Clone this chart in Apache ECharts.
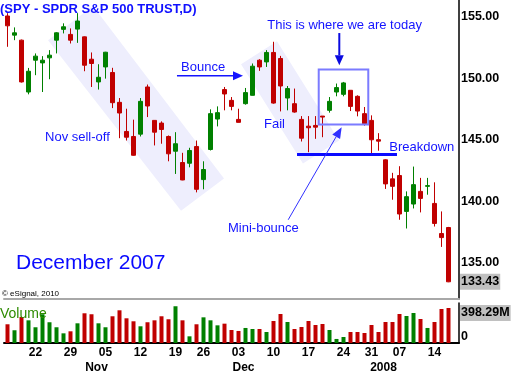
<!DOCTYPE html>
<html><head><meta charset="utf-8">
<script src="https://cdn.jsdelivr.net/npm/echarts@6.0.0/dist/echarts.min.js"></script>
<style>html,body{margin:0;padding:0;background:#fff}#c{width:523px;height:375px}</style>
</head><body><div id="c"></div>
<script>
// ---- data ----
const dates = ['2007-10-16','2007-10-17','2007-10-18','2007-10-19','2007-10-22','2007-10-23','2007-10-24','2007-10-25','2007-10-26','2007-10-29','2007-10-30','2007-10-31',
'2007-11-01','2007-11-02','2007-11-05','2007-11-06','2007-11-07','2007-11-08','2007-11-09','2007-11-12','2007-11-13','2007-11-14','2007-11-15','2007-11-16','2007-11-19','2007-11-20','2007-11-21','2007-11-23','2007-11-26','2007-11-27','2007-11-28','2007-11-29','2007-11-30',
'2007-12-03','2007-12-04','2007-12-05','2007-12-06','2007-12-07','2007-12-10','2007-12-11','2007-12-12','2007-12-13','2007-12-14','2007-12-17','2007-12-18','2007-12-19','2007-12-20','2007-12-21','2007-12-24','2007-12-26','2007-12-27','2007-12-28','2007-12-31',
'2008-01-02','2008-01-03','2008-01-04','2008-01-07','2008-01-08','2008-01-09','2008-01-10','2008-01-11','2008-01-14','2008-01-15','2008-01-16'];
const opens = [155.07,153.51,153.10,148.88,151.47,151.25,151.66,153.10,153.98,153.57,154.00,153.37,151.55,149.70,150.92,150.47,148.04,145.67,145.26,145.45,149.29,146.57,146.35,145.26,144.06,143.14,143.08,144.44,141.75,144.20,146.68,149.08,148.20,146.65,147.93,148.61,151.47,151.33,152.10,151.61,148.39,147.93,146.65,146.10,146.16,146.92,147.39,148.88,148.69,149.02,148.53,147.12,146.57,145.00,143.36,141.81,142.08,139.16,139.76,140.79,141.20,139.81,137.36,137.85];
const closes = [154.27,153.70,149.70,150.57,151.80,151.47,151.88,153.70,154.19,153.10,154.66,151.06,151.20,150.08,152.12,148.01,147.17,145.20,143.73,148.12,147.74,145.61,145.83,143.85,144.67,141.72,144.12,140.96,142.57,147.12,147.20,148.72,147.71,146.41,148.83,150.98,150.92,152.10,147.98,149.37,149.16,147.25,145.12,145.97,146.02,146.84,148.12,149.24,149.62,147.71,147.33,146.30,144.99,144.88,141.40,141.20,138.95,140.36,141.34,140.22,141.26,138.18,137.03,133.43];
const lows = [152.56,153.10,149.65,148.69,150.25,148.88,149.92,152.02,153.65,152.83,152.88,150.57,149.29,149.08,149.97,147.57,145.12,144.93,143.70,145.26,146.84,144.53,144.67,143.24,142.21,141.70,142.75,140.71,140.96,144.12,146.08,147.39,147.39,146.40,147.85,148.60,150.60,150.92,147.93,147.30,147.39,147.20,144.85,143.98,145.07,145.20,147.20,148.53,148.53,147.33,146.90,146.14,143.85,144.10,140.99,140.11,138.48,137.77,139.40,139.08,140.52,137.93,136.27,133.40];
const highs = [155.30,154.14,153.15,150.84,152.02,151.80,152.29,153.75,154.47,154.06,155.30,153.40,152.10,151.14,152.15,150.85,148.39,147.52,146.63,148.39,149.49,146.60,146.49,145.34,145.61,143.93,144.34,144.93,143.24,147.47,147.71,149.29,148.47,147.52,149.21,151.20,151.55,152.29,152.97,151.82,149.37,149.16,146.92,146.92,146.92,146.92,148.47,149.57,149.70,149.02,148.61,147.66,146.98,145.53,143.40,142.30,142.84,140.79,142.81,141.89,141.89,141.53,139.16,137.90];
const volumesM = [213,145,296,258,179,327,236,179,110,133,224,338,327,224,179,304,372,281,247,190,236,258,304,270,418,258,76,213,292,258,201,220,148,137,171,159,159,125,250,330,239,159,182,250,205,216,148,46,68,125,125,114,205,125,239,239,330,307,341,273,171,239,387,398.29];
const priceTicks = [135,140,145,150,155];
const dayTickIndex = [4,9,14,19,24,28,33,38,43,48,52,56,61];
const dayTickLabels = ['22','29','05','12','19','26','03','10','17','24','31','07','14'];
const monthTickIndex = [12,33,53];
const monthTickLabels = ['Nov','Dec','2008'];

// ---- style ----
const UP = '#008000', DOWN = '#c00000';
const FONT = "'Liberation Sans', Arial, sans-serif";
const BLUE = '#1414ff';

const cats = dates.concat(['']);
const candleData = opens.map((o,i)=>[o, closes[i], lows[i], highs[i]]);
const volData = volumesM.map((v,i)=>({value:v, itemStyle:{color: closes[i]>=opens[i]?UP:DOWN}}));
const lastClose = closes[closes.length-1];
const lastVol = volumesM[volumesM.length-1];

const chart = echarts.init(document.getElementById('c'), null, {renderer:'canvas'});
const tagLabel = (fmt, off) => ({show:true,position:'end',distance:1,offset:off,formatter:fmt,backgroundColor:'#c0c0c0',color:'#000',fontWeight:'bold',fontSize:12.5,fontFamily:FONT,padding:[2,1,1,1]});
chart.setOption({
  animation:false,
  grid:[{left:4,right:64,top:0,height:299},{left:4,right:64,top:303,height:40}],
  xAxis:[
    {gridIndex:0,type:'category',data:cats,boundaryGap:true,axisLine:{show:true,lineStyle:{color:'#a8a8a8',width:2}},axisTick:{show:false},axisLabel:{show:false},splitLine:{show:false}},
    {gridIndex:1,type:'category',data:cats,boundaryGap:true,axisLine:{show:true,lineStyle:{color:'#000',width:2}},axisTick:{show:false},splitLine:{show:false},
      axisLabel:{interval:(i)=>dayTickIndex.includes(i),formatter:(v,i)=>{const k=dayTickIndex.indexOf(i);return k>=0?dayTickLabels[k]:'';},
        color:'#000',fontWeight:'bold',fontSize:12,fontFamily:FONT,margin:4}},
    {gridIndex:1,type:'category',data:cats,boundaryGap:true,position:'bottom',offset:15,axisLine:{show:false},axisTick:{show:false},splitLine:{show:false},
      axisLabel:{interval:(i)=>monthTickIndex.includes(i),formatter:(v,i)=>{const k=monthTickIndex.indexOf(i);return k>=0?monthTickLabels[k]:'';},
        color:'#000',fontWeight:'bold',fontSize:12,fontFamily:FONT,margin:4,padding:[0,0,0,10]}}
  ],
  yAxis:[
    {gridIndex:0,type:'value',position:'right',min:132.03,max:156.37,axisLine:{show:true,lineStyle:{color:'#000',width:1.5}},axisTick:{show:false},splitLine:{show:false},
      axisLabel:{customValues:priceTicks,formatter:(v)=>v.toFixed(2),color:'#000',fontWeight:'bold',fontSize:12.5,fontFamily:FONT,margin:2}},
    {gridIndex:1,type:'value',position:'right',min:0,max:455,axisLine:{show:true,lineStyle:{color:'#000',width:1.5}},axisTick:{show:false},splitLine:{show:false},
      axisLabel:{customValues:[0],formatter:()=> '0',verticalAlign:'bottom',color:'#000',fontWeight:'bold',fontSize:12.5,fontFamily:FONT,margin:2}}
  ],
  series:[
    {type:'candlestick',xAxisIndex:0,yAxisIndex:0,data:candleData,barWidth:4,clip:false,
      itemStyle:{color:UP,color0:DOWN,borderColor:UP,borderColor0:DOWN,borderWidth:1},
      markLine:{silent:true,symbol:['none','none'],lineStyle:{color:'rgba(0,0,0,0)',width:0},
        label:tagLabel(()=>lastClose.toFixed(2),[0,0]),data:[{yAxis:lastClose}]}},
    {type:'bar',xAxisIndex:1,yAxisIndex:1,data:volData,barWidth:4,clip:false,
      markLine:{silent:true,symbol:['none','none'],lineStyle:{color:'rgba(0,0,0,0)',width:0},
        label:tagLabel(()=>lastVol.toFixed(2)+'M',[0,5]),data:[{yAxis:lastVol}]}}
  ]
});

// ---- annotations anchored in data coordinates (category index, price) ----
function px(idx, price){
  const i0=Math.floor(idx), f=idx-i0;
  const a=chart.convertToPixel({xAxisIndex:0,yAxisIndex:0},[i0,price]);
  const b=chart.convertToPixel({xAxisIndex:0,yAxisIndex:0},[i0+1,price]);
  return [a[0]+f*(b[0]-a[0]), a[1]];
}
function arrow(a,b,head,halfW,lw,color){
  const dx=b[0]-a[0], dy=b[1]-a[1], L=Math.hypot(dx,dy), ux=dx/L, uy=dy/L;
  const base=[b[0]-ux*head,b[1]-uy*head];
  return [
    {type:'line',z:50,silent:true,shape:{x1:a[0],y1:a[1],x2:base[0],y2:base[1]},style:{stroke:color,lineWidth:lw}},
    {type:'polygon',z:50,silent:true,shape:{points:[b,[base[0]-uy*halfW,base[1]+ux*halfW],[base[0]+uy*halfW,base[1]-ux*halfW]]},style:{fill:color}}
  ];
}
function txt(p,text,size,color,weight){
  return {type:'text',z:60,silent:true,x:p[0],y:p[1],style:{text:text,fill:color,font:(weight||'normal')+' '+size+'px '+FONT,textAlign:'left',textVerticalAlign:'middle',align:'left',verticalAlign:'middle'}};
}
const bandNov = [[5.79,153.10],[12.21,155.88],[30.93,141.83],[24.79,139.22]];
const bandFail = [[33.36,151.14],[38.50,153.02],[47.36,144.93],[42.21,143.06]];
const boxA = px(44.46,150.71), boxB = px(51.54,146.24);
const lineA = px(41.36,143.79), lineB = px(55.64,143.79);
const g = [];
g.push({type:'polygon',z:0,silent:true,shape:{points:bandNov.map(p=>px(p[0],p[1]))},style:{fill:'#eeeefd'}});
g.push({type:'polygon',z:0,silent:true,shape:{points:bandFail.map(p=>px(p[0],p[1]))},style:{fill:'#eeeefd'}});
g.push({type:'rect',z:50,silent:true,shape:{x:boxA[0],y:boxA[1],width:boxB[0]-boxA[0],height:boxB[1]-boxA[1]},style:{fill:'none',stroke:'#7b7bff',lineWidth:2}});
g.push({type:'line',z:50,silent:true,shape:{x1:lineA[0],y1:lineA[1],x2:lineB[0],y2:lineB[1]},style:{stroke:'#0b0bff',lineWidth:3}});
g.push(...arrow(px(24.21,150.20),px(33.64,150.20),10,4.5,1.5,BLUE));
g.push(...arrow(px(47.4,153.68),px(47.4,151.06),10,4.5,2,'#0a0ae0'));
g.push(...arrow(px(40.1,138.48),px(47.74,146.02),11,4.5,1,'#3030ff'));
g.push(txt(px(24.79,150.9),'Bounce',13,BLUE));
g.push(txt(px(37.11,154.33),'This is where we are today',13,BLUE));
g.push(txt(px(36.64,146.24),'Fail',13,BLUE));
g.push(txt(px(5.36,145.18),'Nov sell-off',13,BLUE));
g.push(txt(px(31.5,137.80),'Mini-bounce',13,BLUE));
g.push(txt(px(54.54,144.34),'Breakdown',13,BLUE));
// chart-level texts
g.push(txt([0,9],'(SPY - SPDR S&P 500 TRUST,D)',13,'#1010ff','bold'));
g.push(txt([16,263],'December 2007',21,'#0a0aff'));
g.push(txt([2,294],'\u00a9 eSignal, 2010',8,'#000'));
g.push(txt([0,314],'Volume',14,'#2e8b00'));
chart.setOption({graphic:g});
</script>
</body></html>
